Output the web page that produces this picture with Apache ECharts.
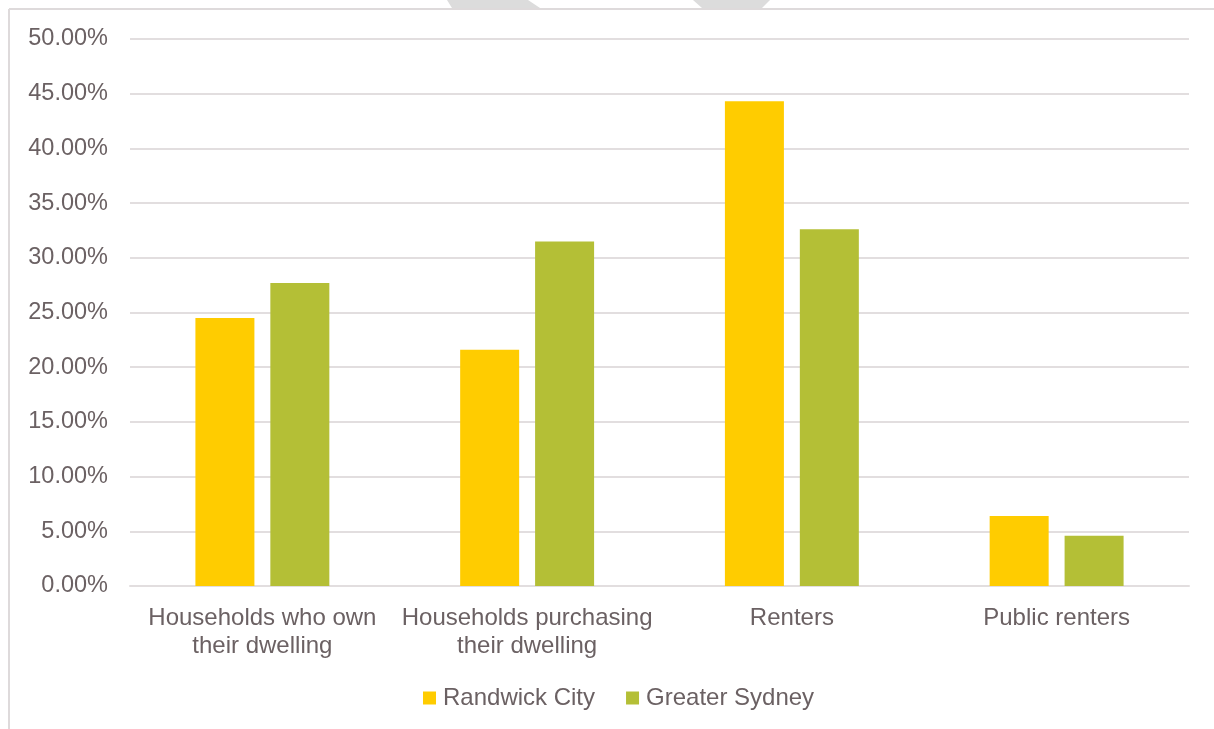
<!DOCTYPE html>
<html>
<head>
<meta charset="utf-8">
<script src="https://cdn.jsdelivr.net/npm/echarts@6/dist/echarts.min.js"></script>
<style>
  html, body { margin: 0; padding: 0; background: #ffffff; }
  #chart { width: 1214px; height: 729px; }
</style>
</head>
<body>
<div id="chart"></div>
<script>
// Tenure categories and shares (%)
const categories = [
  'Households who own\ntheir dwelling',
  'Households purchasing\ntheir dwelling',
  'Renters',
  'Public renters'
];
const randwick = [24.5, 21.6, 44.3, 6.4];
const greaterSydney = [27.7, 31.5, 32.6, 4.6];
const seriesNames = ['Randwick City', 'Greater Sydney'];

const COLORS = {
  randwick: '#FFCC00',
  sydney: '#B4BF36',
  text: '#6B6163',
  grid: '#E2DEDF',
  frame: '#DEDADB',
  shape: '#DCDCDC'
};
const FONT = '"Liberation Sans", Arial, Helvetica, sans-serif';

const chart = echarts.init(document.getElementById('chart'));

const option = {
  backgroundColor: '#ffffff',
  animation: false,
  textStyle: { fontFamily: FONT },
  // frame and the grey shapes cut off at the top edge
  graphic: [
    { type: 'polygon', shape: { points: [[447, 0], [528, 0], [540, 8], [452, 8]] }, style: { fill: COLORS.shape } },
    { type: 'polygon', shape: { points: [[693, 0], [770, 0], [762, 8], [702, 8]] }, style: { fill: COLORS.shape } },
    { type: 'line', shape: { x1: 9, y1: 9, x2: 1214, y2: 9 }, style: { stroke: COLORS.frame, lineWidth: 2 } },
    { type: 'line', shape: { x1: 9, y1: 9, x2: 9, y2: 729 }, style: { stroke: COLORS.frame, lineWidth: 2 } }
  ],
  legend: {
    data: seriesNames,
    top: 681,
    left: 418,
    icon: 'rect',
    itemWidth: 13,
    itemHeight: 13,
    itemGap: 31,
    textStyle: { color: COLORS.text, fontSize: 24, fontFamily: FONT, padding: [0, 0, 0, 2] }
  },
  grid: { left: 130, right: 25, top: 39, bottom: 143, containLabel: false },
  xAxis: {
    type: 'category',
    data: categories,
    axisLine: { show: true, lineStyle: { color: COLORS.grid, width: 2 } },
    axisTick: { show: false },
    axisLabel: {
      color: COLORS.text,
      fontSize: 24,
      fontFamily: FONT,
      lineHeight: 28,
      margin: 18,
      interval: 0
    }
  },
  yAxis: {
    type: 'value',
    min: 0,
    max: 50,
    interval: 5,
    axisLine: { show: false },
    axisTick: { show: false },
    splitLine: { lineStyle: { color: COLORS.grid, width: 2 } },
    axisLabel: {
      color: COLORS.text,
      fontSize: 23.5,
      fontFamily: FONT,
      margin: 22,
      formatter: v => v.toFixed(2) + '%'
    }
  },
  series: [
    {
      name: seriesNames[0],
      type: 'bar',
      data: randwick,
      barWidth: 59,
      barGap: '27%',
      itemStyle: { color: COLORS.randwick }
    },
    {
      name: seriesNames[1],
      type: 'bar',
      data: greaterSydney,
      barWidth: 59,
      barGap: '27%',
      itemStyle: { color: COLORS.sydney }
    }
  ]
};

chart.setOption(option);
</script>
</body>
</html>
